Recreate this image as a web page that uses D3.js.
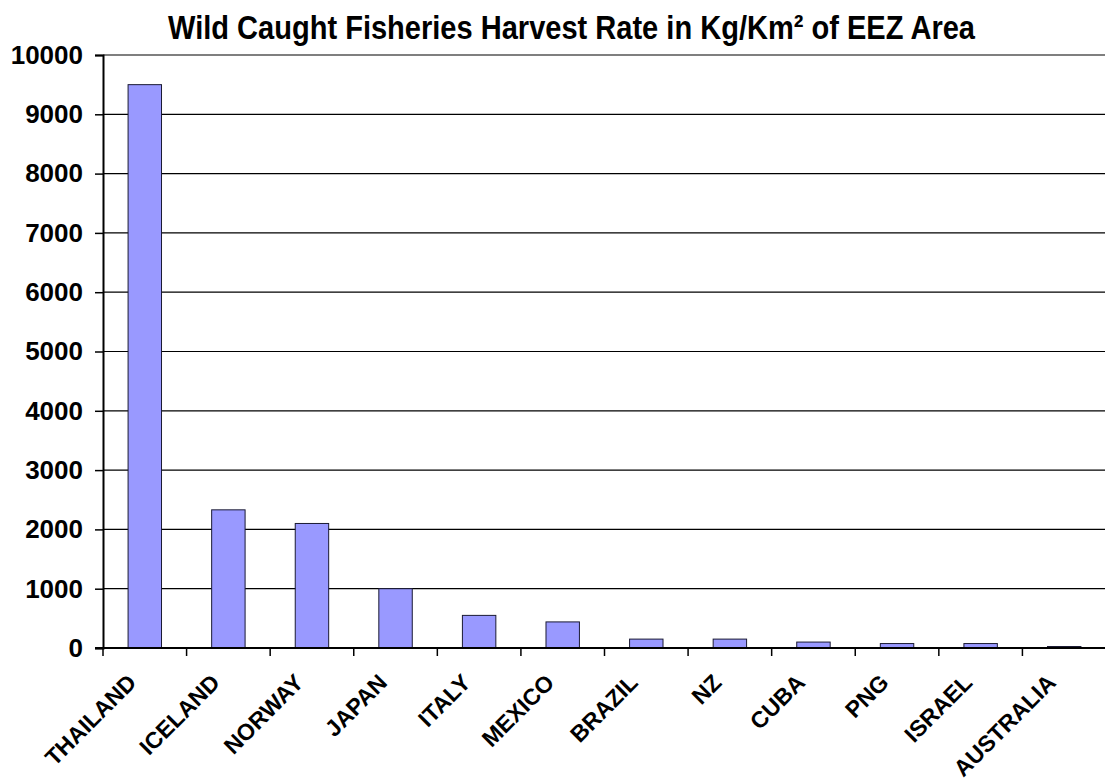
<!DOCTYPE html>
<html>
<head>
<meta charset="utf-8">
<script src="https://cdn.jsdelivr.net/npm/d3@7"></script>
<style>
  html, body { margin: 0; padding: 0; background: #ffffff; }
  svg { display: block; }
</style>
</head>
<body>
<svg id="chart" width="1105" height="783"></svg>
<script>
// Harvest rate per country, kg per km² of exclusive economic zone
const countries = ["THAILAND", "ICELAND", "NORWAY", "JAPAN", "ITALY", "MEXICO",
                   "BRAZIL", "NZ", "CUBA", "PNG", "ISRAEL", "AUSTRALIA"];
const harvest = [9500, 2330, 2100, 1000, 550, 440, 150, 150, 100, 75, 75, 25];
const yTicks = [0, 1000, 2000, 3000, 4000, 5000, 6000, 7000, 8000, 9000, 10000];
const titleText = "Wild Caught Fisheries Harvest Rate in Kg/Km² of EEZ Area";

const svg = d3.select("#chart");
const W = 1105, H = 783;
const plot = { left: 103, right: 1106, top: 55, bottom: 648 };

svg.append("rect").attr("width", W).attr("height", H).attr("fill", "#ffffff");

const x = d3.scaleBand()
  .domain(countries)
  .range([plot.left, plot.right])
  .paddingInner(0.6)
  .paddingOuter(0.3);

const y = d3.scaleLinear()
  .domain([0, 10000])
  .range([plot.bottom, plot.top]);

// Horizontal gridlines
svg.append("g")
  .selectAll("line")
  .data(yTicks.filter(d => d > 0))
  .join("line")
  .attr("x1", plot.left).attr("x2", W)
  .attr("y1", d => y(d)).attr("y2", d => y(d))
  .attr("stroke", "#000").attr("stroke-width", 1.2);

// Bars
svg.append("g")
  .selectAll("rect")
  .data(countries.map((c, i) => ({ c, v: harvest[i] })))
  .join("rect")
  .attr("x", d => x(d.c))
  .attr("width", x.bandwidth())
  .attr("y", d => y(d.v))
  .attr("height", d => y(0) - y(d.v))
  .attr("fill", "#9999ff")
  .attr("stroke", "#1a1a33")
  .attr("stroke-width", 1);

// Y axis
const yAxis = svg.append("g")
  .attr("transform", `translate(${plot.left},0)`)
  .call(d3.axisLeft(y).tickValues(yTicks).tickSize(8).tickPadding(12).tickFormat(d3.format("d")));
yAxis.select(".domain").attr("stroke", "#000").attr("stroke-width", 2);
yAxis.selectAll(".tick line").attr("stroke", "#000").attr("stroke-width", 1.5);
yAxis.selectAll(".tick text")
  .attr("fill", "#000")
  .style("font-family", "Arial, 'Liberation Sans', sans-serif")
  .style("font-weight", "bold")
  .style("font-size", "26px");

// X axis: ticks sit on category boundaries
const bounds = d3.range(countries.length + 1).map(i => plot.left + i * x.step());
svg.append("line")
  .attr("x1", plot.left - 8).attr("x2", W)
  .attr("y1", y(0)).attr("y2", y(0))
  .attr("stroke", "#000").attr("stroke-width", 2);
svg.append("g")
  .selectAll("line")
  .data(bounds)
  .join("line")
  .attr("x1", d => d).attr("x2", d => d)
  .attr("y1", y(0)).attr("y2", y(0) + 8)
  .attr("stroke", "#000").attr("stroke-width", 1.5);

// Rotated category labels
svg.append("g")
  .selectAll("text")
  .data(countries)
  .join("text")
  .attr("transform", d => `translate(${x(d) + x.bandwidth() / 2 - 7},${y(0) + 36}) rotate(-45)`)
  .attr("text-anchor", "end")
  .style("font-family", "Arial, 'Liberation Sans', sans-serif")
  .style("font-weight", "bold")
  .style("font-size", "23px")
  .attr("fill", "#000")
  .text(d => d);

// Title
svg.append("text")
  .attr("x", 168)
  .attr("y", 39)
  .attr("textLength", 807)
  .attr("lengthAdjust", "spacingAndGlyphs")
  .style("font-family", "'Liberation Sans Narrow', 'Arial Narrow', Arial, sans-serif")
  .style("font-weight", "bold")
  .style("font-size", "33px")
  .attr("fill", "#000")
  .text(titleText);
</script>
</body>
</html>
